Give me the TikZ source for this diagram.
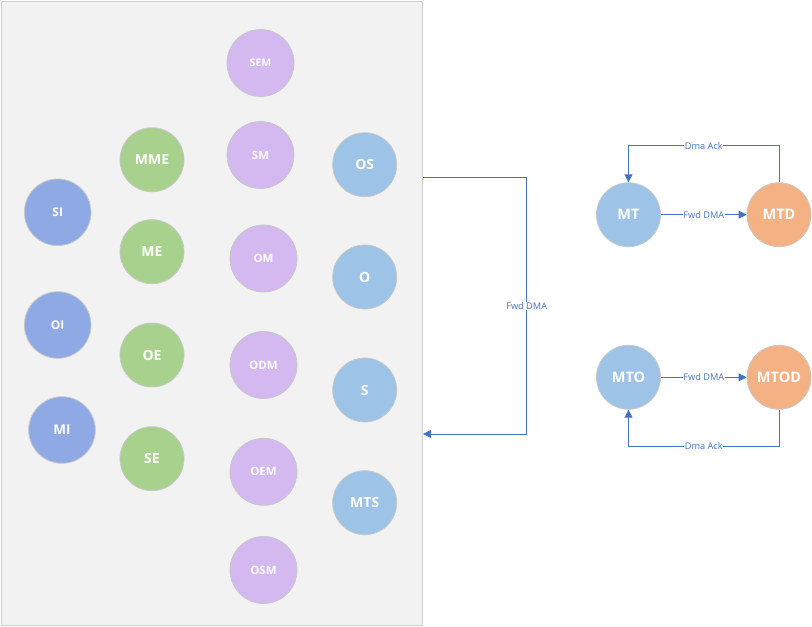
\documentclass[tikz,border=0pt]{standalone}
\usepackage{fontspec}
\setmainfont{Open Sans}
\usetikzlibrary{arrows.meta}
\definecolor{cBlueP}{HTML}{8FA9E4}
\definecolor{cGreen}{HTML}{A9D18E}
\definecolor{cPurple}{HTML}{D4B8F0}
\definecolor{cLBlue}{HTML}{9DC3E6}
\definecolor{cOrange}{HTML}{F4B183}
\definecolor{cLine}{HTML}{4472C4}
\definecolor{cPanel}{HTML}{F2F2F2}
\definecolor{cPanelB}{HTML}{D0D0D0}
\definecolor{cRing}{HTML}{C8C8C8}
\tikzset{
  circ/.style={circle, draw=cRing, line width=0.8pt, text=white, font=\bfseries\fontsize{14}{16}\selectfont, inner sep=0pt},
  big/.style={circ, minimum size=64pt},
  bluep/.style={circ, fill=cBlueP, minimum size=66.6pt, font=\bfseries\fontsize{12}{14}\selectfont},
  green/.style={big, fill=cGreen},
  purple/.style={circ, fill=cPurple, minimum size=67pt, font=\bfseries\fontsize{11.5}{13}\selectfont},
  lblue/.style={big, fill=cLBlue},
  orange/.style={big, fill=cOrange},
  conn/.style={draw=cLine, line width=0.9pt, -{Triangle[length=8pt,width=8pt]}},
  lbl/.style={fill=white, text=cLine, font=\fontsize{9.2}{11}\selectfont, inner sep=0.5pt},
  panelbox/.style={draw=cPanelB, fill=cPanel, line width=1pt, minimum width=421pt, minimum height=623.5pt, inner sep=0pt}
}
\begin{document}
\begin{tikzpicture}[x=1pt,y=-1pt]
\useasboundingbox (0,0) rectangle (812,627);
\fill[white] (0,0) rectangle (812,627);
\node[panelbox] (panel) at (212,313.25) {};
% purple column
\node[purple, font=\bfseries\fontsize{10.5}{12}\selectfont] (SEM) at (260.5,63) {SEM};
\node[purple] (SM) at (260.5,155) {SM};
\node[purple] (OM) at (263.5,258.5) {OM};
\node[purple] (ODM) at (263.5,365) {ODM};
\node[purple] (OEM) at (263.5,471.8) {OEM};
\node[purple] (OSM) at (263.5,570) {OSM};
% green column
\node[green] (MME) at (152,159.7) {MME};
\node[green] (ME) at (152,251.7) {ME};
\node[green] (OE) at (152,355) {OE};
\node[green] (SE) at (152,458.7) {SE};
% blue-purple column
\node[bluep] (SI) at (57.7,212.3) {SI};
\node[bluep] (OI) at (57.7,325) {OI};
\node[bluep, font=\bfseries\fontsize{13.5}{15}\selectfont] (MI) at (62,430) {MI};
% light blue column
\node[lblue] (OS) at (364.7,164.7) {OS};
\node[lblue] (O) at (364.7,277) {O};
\node[lblue] (S) at (364.7,390) {S};
\node[lblue] (MTS) at (364.7,502.7) {MTS};
% right side
\node[lblue, font=\bfseries\fontsize{14.5}{16}\selectfont] (MT) at (628.5,214.7) {MT};
\node[orange, font=\bfseries\fontsize{14.5}{16}\selectfont] (MTD) at (779,214.7) {MTD};
\node[lblue, font=\bfseries\fontsize{14.5}{16}\selectfont] (MTO) at (628.5,377.3) {MTO};
\node[orange, font=\bfseries\fontsize{14.5}{16}\selectfont] (MTOD) at (779,377.3) {MTOD};
% connectors
\draw[conn] (MT) -- node[lbl]{Fwd DMA} (MTD);
\draw[conn] (MTO) -- node[lbl]{Fwd DMA} (MTOD);
\draw[conn] (MTD.north) -- ++(0,-36.5) -| node[lbl, pos=0.25]{Dma Ack} (MT.north);
\draw[conn] (MTOD.south) -- ++(0,36.5) -| node[lbl, pos=0.25]{Dma Ack} (MTO.south);
\coordinate (b1) at (526.7,177.3);
\coordinate (b2) at (526.7,434);
\draw[conn] (panel.east |- b1) -- (b1) -- node[lbl]{Fwd DMA} (b2) -- (panel.east |- b2);
\end{tikzpicture}
\end{document}
